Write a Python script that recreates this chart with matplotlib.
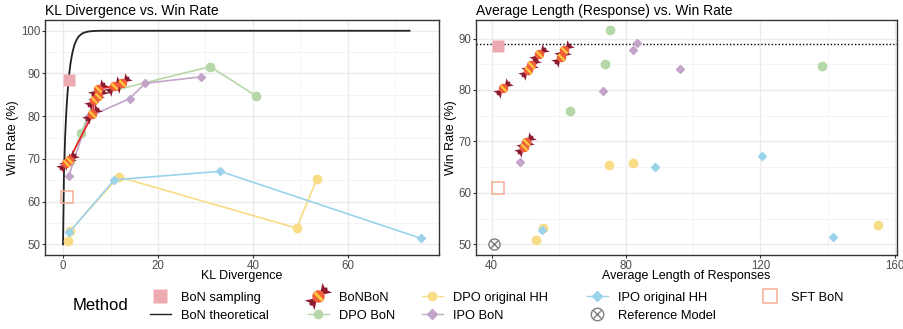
import numpy as np
import matplotlib
matplotlib.use("Agg")
import matplotlib.pyplot as plt
from matplotlib.path import Path
from matplotlib.lines import Line2D
from matplotlib.legend_handler import HandlerTuple

plt.rcParams['font.family'] = ['Liberation Sans', 'DejaVu Sans']

# theoretical BoN curve
kl_theory = [0, 0.193, 0.432, 0.636, 0.809, 0.958, 1.204, 1.403, 1.568, 1.835, 2.046, 2.22,
             2.497, 2.829, 3.175, 3.511, 3.86, 4.199, 4.549, 5.24, 5.932, 6.625, 8.0, 73.0]
wr_theory = [50, 66.7, 75.0, 80.0, 83.3, 85.7, 88.9, 90.9, 92.3, 94.1, 95.2, 96.0,
             97.0, 97.8, 98.5, 98.9, 99.2, 99.45, 99.6, 99.8, 99.9, 99.95, 100.0, 100.0]
bon_theory_ref = 88.9

bon_kl = [1.3]
bon_wr = [88.5]
bon_len = [42.0]

sft_kl = [0.8]
sft_wr = [61.0]
sft_len = [42.0]

ref_len = [40.8]
ref_wr = [50.0]

dpo_bon_kl = [1.5, 3.8, 7.0, 31.0, 40.7]
dpo_bon_wr = [69.5, 76.0, 85.0, 91.6, 84.7]
dpo_bon_len = [50.0, 63.2, 73.8, 75.3, 138.5]

ipo_bon_kl = [1.2, 5.3, 14.0, 17.3, 29.0]
ipo_bon_wr = [66.0, 79.8, 84.1, 87.7, 89.2]
ipo_bon_len = [48.4, 73.0, 96.0, 82.2, 83.3]

dpo_hh_kl = [1.0, 1.5, 11.7, 49.2, 53.5]
dpo_hh_wr = [50.8, 53.2, 65.8, 53.8, 65.4]
dpo_hh_len = [53.1, 55.4, 82.0, 155.1, 74.9]

ipo_hh_kl = [1.3, 10.8, 33.1, 75.4]
ipo_hh_wr = [52.8, 65.1, 67.1, 51.4]
ipo_hh_len = [54.9, 88.7, 120.6, 141.5]

bonbon_kl = [0.6, 1.3, 6.2, 6.6, 7.4, 7.3, 10.8, 12.5]
bonbon_wr = [69.0, 69.8, 80.4, 83.8, 84.8, 86.4, 87.0, 87.8]
bonbon_len = [49.6, 50.2, 43.5, 50.9, 51.6, 60.6, 54.2, 61.4]

GREEN = '#B6D7A8'
PURPLE = '#C3A5C9'
YELLOW = '#F9DC86'
BLUE = '#9AD3EA'
PINK = '#EDABB1'
SALMON = '#F5AD95'
GRAY = '#7F7F7F'
RED = '#E8201F'
WRAP = '#8E1B2F'
CANDY = '#F2603A'
BAND = '#FFC83D'


# candy marker made of three custom paths
def rot(pts):
    d = np.array([np.sqrt(0.5), np.sqrt(0.5)])
    p = np.array([-np.sqrt(0.5), np.sqrt(0.5)])
    return np.array([a * d + b * p for a, b in pts])


wrap_verts = np.vstack([rot([(0.15, 0), (1.0, 0.55), (0.85, 0.18), (1.0, 0.0), (0.85, -0.18), (1.0, -0.55), (0.15, 0)]),
                        rot([(-0.15, 0), (-1.0, 0.55), (-0.85, 0.18), (-1.0, 0.0), (-0.85, -0.18), (-1.0, -0.55), (-0.15, 0)])])
wrap_codes = ([Path.MOVETO] + [Path.LINETO] * 5 + [Path.CLOSEPOLY]) * 2
wrap_path = Path(wrap_verts, wrap_codes)
ang = np.linspace(0, 2 * np.pi, 40)
circ_verts = np.column_stack([0.5 * np.cos(ang), 0.5 * np.sin(ang)])
circ_path = Path(circ_verts)
band_verts = rot([(-0.12, -0.46), (0.12, -0.46), (0.12, 0.46), (-0.12, 0.46), (-0.12, -0.46)])
band_path = Path(band_verts)
candy_parts = [(wrap_path, WRAP), (circ_path, CANDY), (band_path, BAND)]


def candy(ax, x, y, unit=6.8, z=6):
    for path, col in candy_parts:
        m = np.max(np.abs(path.vertices))
        ax.plot(x, y, ls='none', marker=path, ms=2 * m * unit,
                mfc=col, mec='none', zorder=z)


def style(ax, xlim, ylim, xmaj, xmin, ymaj, ymin, title, xlabel):
    ax.set_xlim(*xlim)
    ax.set_ylim(*ylim)
    ax.set_xticks(xmaj)
    ax.set_xticks(xmin, minor=True)
    ax.set_yticks(ymaj)
    ax.set_yticks(ymin, minor=True)
    ax.grid(which='major', color='#EBEBEB', lw=1.0, zorder=0)
    ax.grid(which='minor', color='#F2F2F2', lw=0.6, zorder=0)
    ax.set_axisbelow(True)
    for s in ax.spines.values():
        s.set_color('#333333')
        s.set_linewidth(1.0)
    ax.tick_params(which='major', length=2.5, color='#333333', labelsize=8.3,
                   labelcolor='#4D4D4D', pad=1)
    ax.tick_params(which='minor', length=0)
    ax.set_title(title, loc='left', fontsize=10, pad=4)
    ax.set_xlabel(xlabel, fontsize=9, labelpad=-1)
    ax.set_ylabel('Win Rate (%)', fontsize=9, labelpad=1)


fig = plt.figure(figsize=(9.04, 3.29), dpi=100)
ax1 = fig.add_axes([0.0498, 0.2249, 0.4358, 0.7141])
ax2 = fig.add_axes([0.5265, 0.2249, 0.4658, 0.7141])

# left panel: KL divergence
ax1.plot(kl_theory, wr_theory, color='#222222', lw=1.3, zorder=2)
ax1.plot(dpo_hh_kl, dpo_hh_wr, color=YELLOW, lw=1.2, marker='o', ms=6, zorder=3)
ax1.plot(ipo_hh_kl, ipo_hh_wr, color=BLUE, lw=1.2, marker='D', ms=4.5, zorder=3)
ax1.plot(dpo_bon_kl, dpo_bon_wr, color=GREEN, lw=1.2, marker='o', ms=6, zorder=3)
ax1.plot(ipo_bon_kl, ipo_bon_wr, color=PURPLE, lw=1.2, marker='D', ms=4.5, zorder=3)
ax1.plot(bon_kl, bon_wr, ls='none', marker='s', ms=8, mfc=PINK, mec='none', zorder=4)
ax1.plot(sft_kl, sft_wr, ls='none', marker='s', ms=8, mfc='none', mec=SALMON, mew=1.1, zorder=4)
ax1.plot(bonbon_kl, bonbon_wr, color=RED, lw=1.2, zorder=5)
candy(ax1, bonbon_kl, bonbon_wr)
style(ax1, (-3.8, 79.2), (47.5, 102.5), [0, 20, 40, 60], [10, 30, 50, 70],
      [50, 60, 70, 80, 90, 100], [55, 65, 75, 85, 95],
      'KL Divergence vs. Win Rate', 'KL Divergence')

# right panel: response length
ax2.axhline(bon_theory_ref, color='black', lw=1.0, ls=(0, (1, 1.5)), zorder=2)
ax2.plot(dpo_hh_len, dpo_hh_wr, ls='none', color=YELLOW, marker='o', ms=6, zorder=3)
ax2.plot(ipo_hh_len, ipo_hh_wr, ls='none', color=BLUE, marker='D', ms=4.5, zorder=3)
ax2.plot(dpo_bon_len, dpo_bon_wr, ls='none', color=GREEN, marker='o', ms=6, zorder=3)
ax2.plot(ipo_bon_len, ipo_bon_wr, ls='none', color=PURPLE, marker='D', ms=4.5, zorder=3)
ax2.plot(bon_len, bon_wr, ls='none', marker='s', ms=8, mfc=PINK, mec='none', zorder=4)
ax2.plot(sft_len, sft_wr, ls='none', marker='s', ms=8, mfc='none', mec=SALMON, mew=1.1, zorder=4)
ax2.plot(ref_len, ref_wr, ls='none', marker='o', ms=8, mfc='none', mec=GRAY, mew=1.0, zorder=4)
ax2.plot(ref_len, ref_wr, ls='none', marker='x', ms=5.5, mec=GRAY, mew=1.0, zorder=4)
candy(ax2, bonbon_len, bonbon_wr)
style(ax2, (35.3, 160.7), (47.9, 93.6), [40, 80, 120, 160], [60, 100, 140],
      [50, 60, 70, 80, 90], [55, 65, 75, 85],
      'Average Length (Response) vs. Win Rate', 'Average Length of Responses')

# legend, one column at a time so every column sits where it should
h_bon = Line2D([], [], ls='none', marker='s', ms=10, mfc=PINK, mec='none')
h_theory = Line2D([], [], color='#222222', lw=1.0)
h_candy = tuple(Line2D([], [], ls='none', marker=pth, ms=2 * np.max(np.abs(pth.vertices)) * 9.0,
                       mfc=c, mec='none') for pth, c in candy_parts)
h_dpo_bon = Line2D([], [], color=GREEN, lw=1.0, marker='o', ms=6)
h_dpo_hh = Line2D([], [], color=YELLOW, lw=1.0, marker='o', ms=6)
h_ipo_bon = Line2D([], [], color=PURPLE, lw=1.0, marker='D', ms=5)
h_ipo_hh = Line2D([], [], color=BLUE, lw=1.0, marker='D', ms=5)
h_ref = (Line2D([], [], ls='none', marker='o', ms=9, mfc='none', mec=GRAY),
         Line2D([], [], ls='none', marker='x', ms=6, mec=GRAY))
h_sft = Line2D([], [], ls='none', marker='s', ms=10, mfc='none', mec=SALMON, mew=1.1)

columns = [
    ([h_bon, h_theory], ['BoN sampling', 'BoN theoretical'], 0.166),
    ([h_candy, h_dpo_bon], ['BoNBoN', 'DPO BoN'], 0.3407),
    ([h_dpo_hh, h_ipo_bon], ['DPO original HH', 'IPO BoN'], 0.4668),
    ([h_ipo_hh, h_ref], ['IPO original HH', 'Reference Model'], 0.6493),
    ([h_sft], ['SFT BoN'], 0.8407),
]
for hs, ls_, xpos in columns:
    fig.legend(hs, ls_, loc='upper left', bbox_to_anchor=(xpos, 0.113),
               frameon=False, fontsize=9.3, handlelength=1.6, handletextpad=0.8,
               labelspacing=0.45, borderpad=0, borderaxespad=0,
               handler_map={tuple: HandlerTuple(ndivide=1, pad=0)})
fig.text(0.08, 0.07, 'Method', fontsize=12, va='center', ha='left')

fig.savefig('out.png', dpi=100)
